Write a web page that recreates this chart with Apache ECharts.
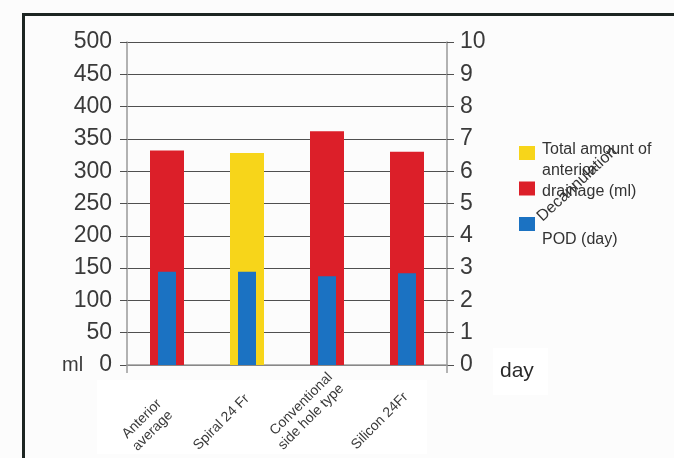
<!DOCTYPE html>
<html>
<head>
<meta charset="utf-8">
<script src="https://cdn.jsdelivr.net/npm/echarts@6/dist/echarts.min.js"></script>
<style>
  html, body { margin: 0; padding: 0; background: #fcfcfc; }
  #main { width: 674px; height: 458px; }
</style>
</head>
<body>
<div id="main"></div>
<script>
// categories and values
var categories = ['Anterior\naverage', 'Spiral 24 Fr', 'Conventional\nside hole type', 'Silicon 24Fr'];
var redDrainage = [332, '-', 362, 330];      // ml
var yellowDrainage = ['-', 328, '-', '-'];   // ml
var podDays = [2.89, 2.89, 2.75, 2.84];      // day
var mlTicks = [0, 50, 100, 150, 200, 250, 300, 350, 400, 450, 500];
var dayTicks = [0, 1, 2, 3, 4, 5, 6, 7, 8, 9, 10];

// the labels under the axis are not placed evenly in the picture
// (padding top / right, labels are top aligned)
var labelPads = [[11, 30, 0, 0], [13, 21, 0, 0], [0, 3.5, 0, 0], [11, 20.5, 0, 0]];

var chart = echarts.init(document.getElementById('main'), null, { renderer: 'canvas' });

var font = 'Liberation Sans, Arial, Helvetica, sans-serif';
var gridColor = '#505050';
var axisGray = '#9a9a9a';

var catData = categories.map(function (c, i) {
  return { value: c, textStyle: { padding: labelPads[i], verticalAlign: 'top' } };
});

var option = {
  backgroundColor: '#fcfcfc',
  animation: false,
  textStyle: { fontFamily: font },
  grid: { left: 127, right: 227, top: 42, bottom: 93, outerBoundsMode: 'none', containLabel: false },
  legend: {
    orient: 'vertical',
    left: 514,
    top: 141,
    icon: 'rect',
    itemWidth: 16,
    itemHeight: 14,
    itemGap: 21.5,
    formatter: function () { return ''; },
    selectedMode: false,
    data: ['Total amount of', 'anterior drainage (ml)', 'Decannulation POD (day)']
  },
  xAxis: [{
    type: 'category',
    data: catData,
    axisLine: { lineStyle: { color: axisGray, width: 1.5 } },
    axisTick: {
      show: true,
      length: 8,
      interval: function (i) { return i === 0; },
      lineStyle: { color: axisGray, width: 1.5 }
    },
    axisLabel: {
      interval: 0,
      rotate: 45,
      margin: 2,
      fontSize: 14,
      lineHeight: 16,
      color: '#3a3a3a',
      fontFamily: font
    }
  }, {
    type: 'category',
    data: categories,
    show: false
  }],
  yAxis: [{
    type: 'value',
    min: mlTicks[0],
    max: mlTicks[mlTicks.length - 1],
    interval: 50,
    axisLine: { show: true, lineStyle: { color: axisGray, width: 1.5 } },
    axisTick: { show: true, length: 7, lineStyle: { color: gridColor } },
    axisLabel: { margin: 15, fontSize: 23, color: '#3a3a3a', fontFamily: font },
    splitLine: { show: true, lineStyle: { color: gridColor, width: 1 } }
  }, {
    type: 'value',
    position: 'right',
    min: dayTicks[0],
    max: dayTicks[dayTicks.length - 1],
    interval: 1,
    axisLine: { show: true, lineStyle: { color: axisGray, width: 1.5 } },
    axisTick: { show: true, length: 7, lineStyle: { color: gridColor } },
    axisLabel: { margin: 13, fontSize: 23, color: '#3a3a3a', fontFamily: font },
    splitLine: { show: false }
  }],
  series: [{
    name: 'anterior drainage (ml)',
    type: 'bar',
    data: redDrainage,
    barWidth: 34,
    barGap: '-100%',
    itemStyle: { color: '#dc1f29' }
  }, {
    name: 'Total amount of',
    type: 'bar',
    data: yellowDrainage,
    barWidth: 34,
    barGap: '-100%',
    itemStyle: { color: '#f7d51a' }
  }, {
    name: 'Decannulation POD (day)',
    type: 'bar',
    xAxisIndex: 1,
    yAxisIndex: 1,
    data: podDays,
    barWidth: 18,
    z: 3,
    itemStyle: { color: '#1b72c2' }
  }],
  graphic: [
    // outer frame
    { type: 'rect', left: 22, top: 13, shape: { width: 700, height: 500 },
      style: { fill: 'transparent', stroke: '#1d2522', lineWidth: 3 }, z: 10 },
    // whiter patches behind labels
    { type: 'rect', left: 97, top: 380, shape: { width: 330, height: 74 },
      style: { fill: '#ffffff' }, z: -10 },
    { type: 'rect', left: 493, top: 348, shape: { width: 55, height: 47 },
      style: { fill: '#ffffff' }, z: -10 },
    { type: 'text', left: 62, top: 355,
      style: { text: 'ml', font: '20px ' + font, fill: '#3a3a3a' } },
    { type: 'text', left: 500, top: 361,
      style: { text: 'day', font: '21px ' + font, fill: '#2a2a2a' } },
    // legend texts
    { type: 'text', left: 542, top: 139,
      style: { text: 'Total amount of\nanterior\ndrainage (ml)', font: '16px ' + font,
               lineHeight: 21, fill: '#333' } },
    { type: 'text', left: 542, top: 232,
      style: { text: 'POD (day)', font: '16px ' + font, fill: '#333' } },
    { type: 'text', x: 577, y: 184, rotation: 43 * Math.PI / 180,
      style: { text: 'Decannulation', font: '16px ' + font, fill: '#333',
               align: 'center', verticalAlign: 'middle' }, z: 11 }
  ]
};

chart.setOption(option);
</script>
</body>
</html>
